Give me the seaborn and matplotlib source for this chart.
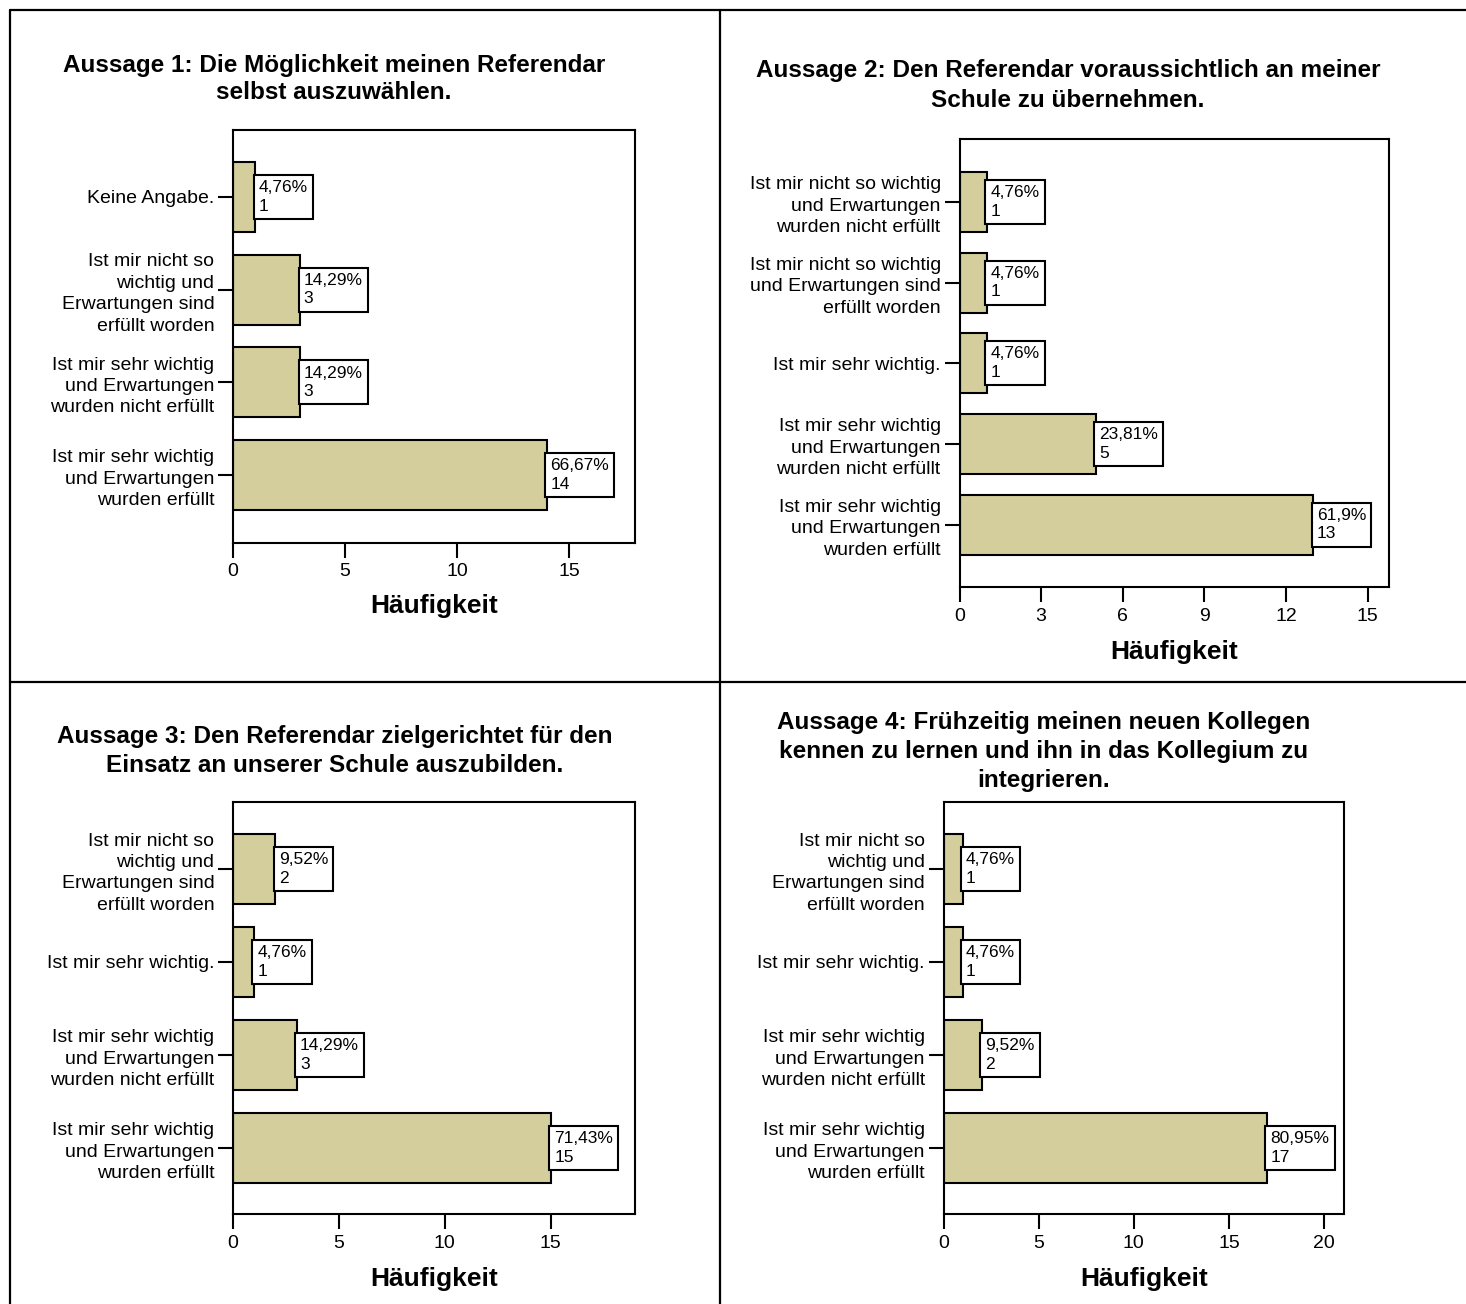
import matplotlib
matplotlib.use("Agg")
import matplotlib.pyplot as plt
import seaborn as sns
import pandas as pd
from matplotlib.lines import Line2D

# ---------------------------------------------------------------- data
TOTAL = 21

title_1 = ["Aussage 1: Die Möglichkeit meinen Referendar", "selbst auszuwählen."]
cats_1 = [
    "Keine Angabe.",
    "Ist mir nicht so\nwichtig und\nErwartungen sind\nerfüllt worden",
    "Ist mir sehr wichtig\nund Erwartungen\nwurden nicht erfüllt",
    "Ist mir sehr wichtig\nund Erwartungen\nwurden erfüllt",
]
counts_1 = [1, 3, 3, 14]
ticks_1 = [0, 5, 10, 15]

title_2 = ["Aussage 2: Den Referendar voraussichtlich an meiner", "Schule zu übernehmen."]
cats_2 = [
    "Ist mir nicht so wichtig\nund Erwartungen\nwurden nicht erfüllt",
    "Ist mir nicht so wichtig\nund Erwartungen sind\nerfüllt worden",
    "Ist mir sehr wichtig.",
    "Ist mir sehr wichtig\nund Erwartungen\nwurden nicht erfüllt",
    "Ist mir sehr wichtig\nund Erwartungen\nwurden erfüllt",
]
counts_2 = [1, 1, 1, 5, 13]
ticks_2 = [0, 3, 6, 9, 12, 15]

title_3 = ["Aussage 3: Den Referendar zielgerichtet für den",
           "Einsatz an unserer Schule auszubilden."]
cats_3 = [
    "Ist mir nicht so\nwichtig und\nErwartungen sind\nerfüllt worden",
    "Ist mir sehr wichtig.",
    "Ist mir sehr wichtig\nund Erwartungen\nwurden nicht erfüllt",
    "Ist mir sehr wichtig\nund Erwartungen\nwurden erfüllt",
]
counts_3 = [2, 1, 3, 15]
ticks_3 = [0, 5, 10, 15]

title_4 = ["Aussage 4: Frühzeitig meinen neuen Kollegen",
           "kennen zu lernen und ihn in das Kollegium zu",
           "integrieren."]
cats_4 = [
    "Ist mir nicht so\nwichtig und\nErwartungen sind\nerfüllt worden",
    "Ist mir sehr wichtig.",
    "Ist mir sehr wichtig\nund Erwartungen\nwurden nicht erfüllt",
    "Ist mir sehr wichtig\nund Erwartungen\nwurden erfüllt",
]
counts_4 = [1, 1, 2, 17]
ticks_4 = [0, 5, 10, 15, 20]

XLABEL = "Häufigkeit"

# ---------------------------------------------------------------- style
W, H, DPI = 1466, 1304, 100
BAR_COLOR = "#D3CE9B"

sns.set_theme(style="white")
plt.rcParams["font.family"] = ["Liberation Sans", "DejaVu Sans"]
plt.rcParams.update({
    "text.color": "black",
    "axes.labelcolor": "black",
    "axes.linewidth": 1.5,
    "axes.edgecolor": "black",
    "xtick.major.size": 10.5,
    "ytick.major.size": 10.5,
    "xtick.major.width": 1.5,
    "ytick.major.width": 1.5,
    "xtick.major.pad": 4.5,
    "ytick.major.pad": 3,
    "xtick.color": "black",
    "ytick.color": "black",
    "xtick.labelcolor": "black",
    "ytick.labelcolor": "black",
    "xtick.labelsize": 14,
    "ytick.labelsize": 14,
})

fig = plt.figure(figsize=(W / DPI, H / DPI), dpi=DPI)
fig.patch.set_facecolor("white")


def fx(px):
    return px / W


def fy(py):
    return 1 - py / H


def pct_label(n):
    s = f"{n / TOTAL * 100:.2f}".rstrip("0").rstrip(".")
    return s.replace(".", ",") + "%"


# panel layout: axes box in pixels (left, top, right, bottom), axis limits,
# bar thickness, title centre / baselines and x-label baseline
panels = [
    dict(title=title_1, cats=cats_1, counts=counts_1, ticks=ticks_1,
         box=(233, 129.6, 634.5, 542.6), xmax=17.9, ylim=(3.729, -0.727),
         width=0.755, tx=334, tys=[72, 99], xl=613),
    dict(title=title_2, cats=cats_2, counts=counts_2, ticks=ticks_2,
         box=(959.5, 139.2, 1389, 587), xmax=15.78, ylim=(4.773, -0.776),
         width=0.744, tx=1068, tys=[77, 107], xl=659),
    dict(title=title_3, cats=cats_3, counts=counts_3, ticks=ticks_3,
         box=(233, 802, 634.5, 1214), xmax=18.95, ylim=(3.71, -0.72),
         width=0.75, tx=335, tys=[743, 772], xl=1286),
    dict(title=title_4, cats=cats_4, counts=counts_4, ticks=ticks_4,
         box=(943.6, 802, 1344, 1214), xmax=21.05, ylim=(3.71, -0.72),
         width=0.75, tx=1044, tys=[729, 758, 787], xl=1286),
]

for p in panels:
    l, t, r, b = p["box"]
    ax = fig.add_axes([fx(l), fy(b), (r - l) / W, (b - t) / H])
    df = pd.DataFrame({"Kategorie": p["cats"], "Anzahl": p["counts"]})
    sns.barplot(data=df, y="Kategorie", x="Anzahl", orient="h", ax=ax,
                color=BAR_COLOR, saturation=1, width=p["width"],
                edgecolor="black", linewidth=1.5, errorbar=None)
    ax.set_xlim(0, p["xmax"])
    ax.set_ylim(*p["ylim"])
    ax.set_xticks(p["ticks"])
    ax.set_ylabel("")
    ax.tick_params(axis="both", direction="out", bottom=True, left=True,
                   top=False, right=False)
    for lab in ax.get_yticklabels():
        lab.set_multialignment("right")
        lab.set_linespacing(1.34)
    for s in ax.spines.values():
        s.set_visible(True)
        s.set_linewidth(1.5)
        s.set_color("black")

    ax.set_xlabel(XLABEL, fontsize=19, fontweight="bold", color="black")
    ax.xaxis.label.set_verticalalignment("baseline")
    ax.xaxis.set_label_coords(0.5, (b - p["xl"]) / (b - t))

    for i, n in enumerate(p["counts"]):
        ax.annotate(f"{pct_label(n)}\n{n}", xy=(n, i), xytext=(2.5, 0),
                    textcoords="offset points", ha="left", va="center",
                    fontsize=12.5, linespacing=1.3, color="black",
                    bbox=dict(boxstyle="square,pad=0.3", fc="white",
                              ec="black", lw=1.5))

    for line, yb in zip(p["title"], p["tys"]):
        fig.text(fx(p["tx"]), fy(yb), line, ha="center", va="baseline",
                 fontsize=17.5, fontweight="bold", color="black")

# page grid
grid_kw = dict(color="black", lw=1.6, transform=fig.transFigure)
fig.add_artist(Line2D([fx(10), 1], [fy(10), fy(10)], **grid_kw))
fig.add_artist(Line2D([fx(10), fx(10)], [fy(10), 0], **grid_kw))
fig.add_artist(Line2D([fx(720), fx(720)], [fy(10), 0], **grid_kw))
fig.add_artist(Line2D([fx(10), 1], [fy(682), fy(682)], **grid_kw))

fig.savefig("out.png", dpi=DPI, facecolor="white")
